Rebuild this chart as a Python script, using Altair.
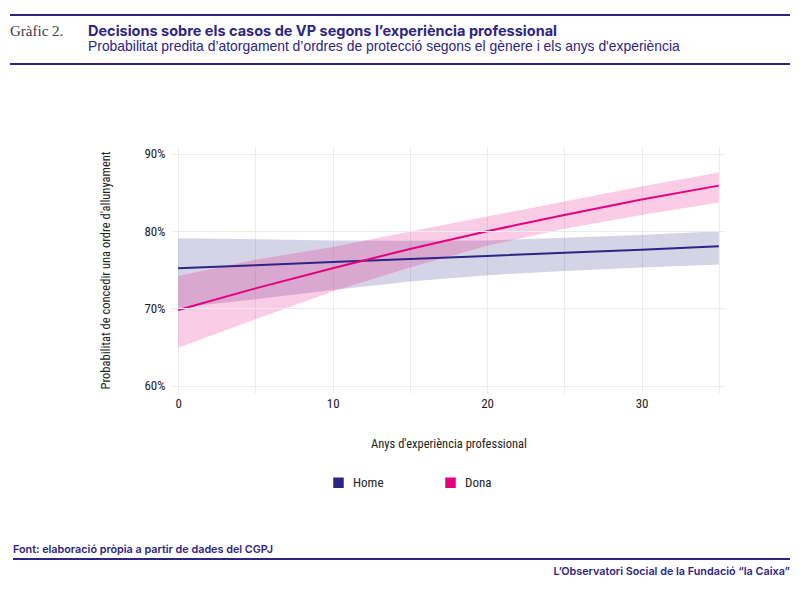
import altair as alt
import pandas as pd

# ---- data ----
years = [0, 5, 10, 15, 20, 25, 30, 35]
home_fit = [75.2, 75.6, 76.0, 76.4, 76.8, 77.2, 77.6, 78.05]
home_lo = [70.1, 71.2, 72.4, 73.5, 74.3, 74.85, 75.3, 75.7]
home_hi = [79.1, 78.95, 78.8, 78.75, 78.8, 79.15, 79.5, 80.0]
dona_fit = [69.8, 72.6, 75.2, 77.7, 80.0, 82.1, 84.1, 85.9]
dona_lo = [64.9, 68.6, 72.2, 75.3, 78.1, 80.3, 82.1, 83.7]
dona_hi = [74.2, 76.3, 77.95, 79.95, 81.9, 83.85, 85.8, 87.6]

groups = ["Home", "Dona"]
colors = ["#2E2483", "#E6007E"]

x_ticks = [0, 5, 10, 15, 20, 25, 30, 35]
y_ticks = [0.6, 0.7, 0.8, 0.9]

label_tag = ["Gràfic 2."]
title_txt = ["Decisions sobre els casos de VP segons l’experiència professional"]
subtitle_txt = ["Probabilitat predita d’atorgament d’ordres de protecció segons el gènere i els anys d'experiència"]
source_txt = ["Font:  elaboració pròpia a partir de dades del CGPJ"]
brand_txt = ["L’Observatori Social de la Fundació “la Caixa”"]
x_title = "Anys d'experiència professional"
y_title = "Probabilitat de concedir una ordre d'allunyament"

rows = []
for g, fit, lo, hi in [("Home", home_fit, home_lo, home_hi), ("Dona", dona_fit, dona_lo, dona_hi)]:
    for x, f, l, h in zip(years, fit, lo, hi):
        rows.append({"anys": x, "grup": g, "fit": f / 100, "lo": l / 100, "hi": h / 100})
df = pd.DataFrame(rows)

NARROW = "Liberation Sans Narrow, Arial Narrow, Roboto Condensed, Liberation Sans, sans-serif"
PURPLE = "#2E2483"

W, H = 553, 246

xscale = alt.Scale(domain=[-0.4, 35.4], nice=False, zero=False)
yscale = alt.Scale(domain=[0.5905, 0.909], nice=False, zero=False)

xaxis = alt.Axis(values=x_ticks, title=x_title, labelExpr="datum.value % 10 == 0 ? datum.label : ''",
                 grid=True, domain=False, ticks=False, labelPadding=4, titlePadding=27,
                 labelFont=NARROW, titleFont=NARROW, labelFontSize=13, titleFontSize=12.5,
                 labelColor="#222", titleColor="#222", titleFontWeight="normal")
yaxis = alt.Axis(values=y_ticks, format=".0%", title=y_title, grid=True, domain=False, ticks=False,
                 labelPadding=7, titlePadding=31, labelFont=NARROW, titleFont=NARROW,
                 labelFontSize=13, titleFontSize=12.5, labelColor="#222", titleColor="#222",
                 titleFontWeight="normal", zindex=1)

base = alt.Chart(df)

bands = base.mark_area(opacity=0.2).encode(
    x=alt.X("anys:Q", scale=xscale, axis=xaxis),
    y=alt.Y("lo:Q", scale=yscale, axis=yaxis),
    y2="hi:Q",
    fill=alt.Fill("grup:N", scale=alt.Scale(domain=groups, range=colors), sort=groups,
                  legend=alt.Legend(title=None, orient="none", legendX=160, legendY=329,
                                    direction="horizontal", symbolType="square", symbolSize=110,
                                    symbolOpacity=1, symbolStrokeWidth=0, labelFont=NARROW,
                                    labelFontSize=13, labelColor="#222", columnPadding=60,
                                    labelOffset=8)),
)

lines = base.mark_line(strokeWidth=2).encode(
    x=alt.X("anys:Q", scale=xscale),
    y=alt.Y("fit:Q", scale=yscale),
    stroke=alt.Stroke("grup:N", scale=alt.Scale(domain=groups, range=colors), legend=None),
)


def txt(t, x, y, align="left", **kw):
    return alt.Chart(pd.DataFrame({"t": t})).mark_text(align=align, baseline="alphabetic", **kw).encode(
        x=alt.value(x), y=alt.value(y), text="t:N")


def hrule(x1, x2, y, w=2):
    return alt.Chart(pd.DataFrame({"a": [0]})).mark_rule(color=PURPLE, strokeWidth=w).encode(
        x=alt.value(x1), x2=alt.value(x2), y=alt.value(y))


OX, OY = 172, 147  # plot origin in page coords

header = [
    hrule(10 - OX, 790 - OX, 15 - OY),
    hrule(10 - OX, 790 - OX, 64 - OY),
    txt(label_tag, 10 - OX, 36 - OY, font="Liberation Serif", fontSize=15, color="#3b3b4f"),
    txt(title_txt, 88 - OX, 35.5 - OY, font="Inter", fontWeight="bold", fontSize=14.5, color=PURPLE),
    txt(subtitle_txt, 88 - OX, 50.5 - OY, font="Liberation Sans", fontSize=13.9, color=PURPLE),
    hrule(13 - OX, 790 - OX, 559 - OY),
    txt(source_txt, 13 - OX, 553 - OY, font="Inter", fontWeight=600, fontSize=10.8, color=PURPLE),
    txt(brand_txt, 790 - OX, 575 - OY, align="right", font="Inter", fontWeight=600, fontSize=10.8,
        color=PURPLE),
]

chart = alt.layer(bands, lines, *header).resolve_scale(fill="independent").properties(
    width=W, height=H,
    autosize=alt.AutoSizeParams(type="none"),
    padding={"left": OX - 8, "top": OY - 8, "right": 784 - (OX - 8) - W, "bottom": 575 - (OY - 8) - H},
    background="white",
).configure_view(stroke=None).configure_axis(gridColor="#EBEBF0", gridWidth=1)

chart.save("out.html", embed_options={"renderer": "svg", "actions": False})
